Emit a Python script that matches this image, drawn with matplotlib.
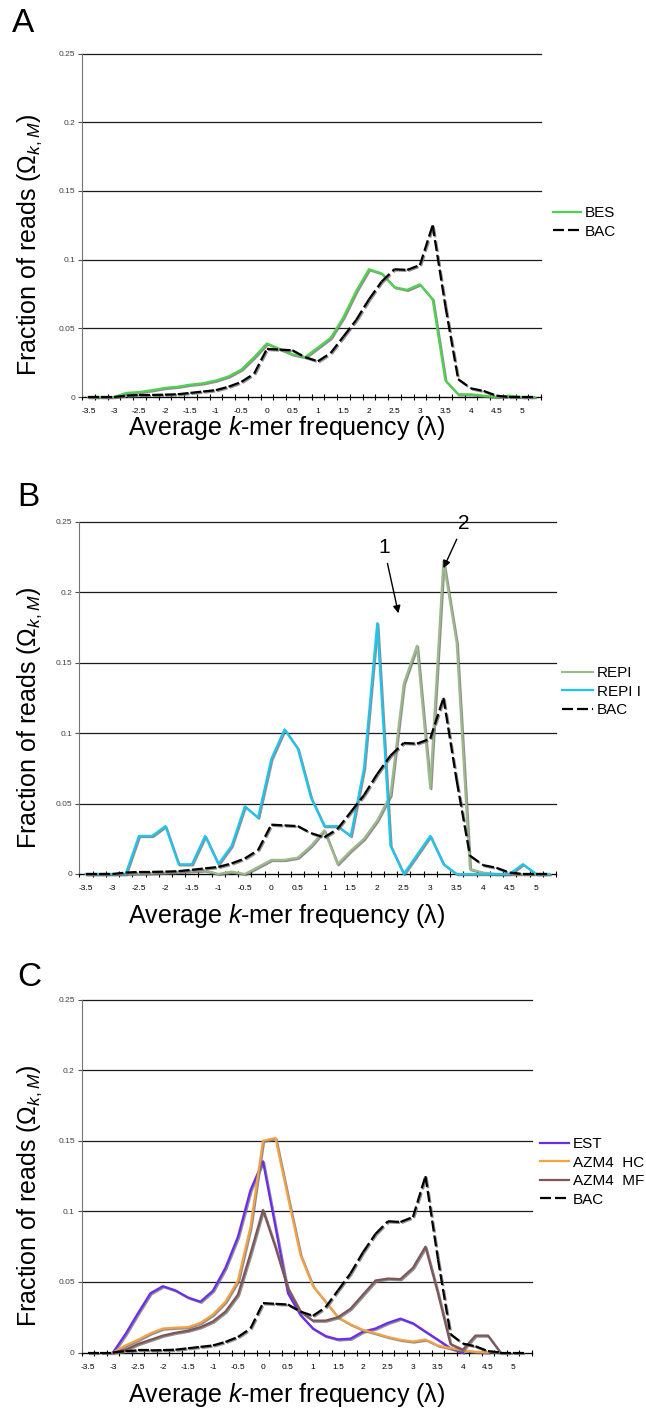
import numpy as np
import matplotlib
matplotlib.use('Agg')
import matplotlib.pyplot as plt
import matplotlib.patheffects as pe
from matplotlib.lines import Line2D
from matplotlib.collections import LineCollection

plt.rcParams['font.family'] = ['Liberation Sans', 'DejaVu Sans']
plt.rcParams['mathtext.fontset'] = 'custom'
plt.rcParams['mathtext.rm'] = 'Liberation Sans'
plt.rcParams['mathtext.it'] = 'Liberation Sans:italic'
plt.rcParams['mathtext.bf'] = 'Liberation Sans:bold'

# Category axis (average k-mer frequency, lambda)
lam = [-3.5, -3.25, -3.0, -2.75, -2.5, -2.25, -2.0, -1.75, -1.5, -1.25, -1.0, -0.75,
       -0.5, -0.25, 0.0, 0.25, 0.5, 0.75, 1.0, 1.25, 1.5, 1.75, 2.0, 2.25,
       2.5, 2.75, 3.0, 3.25, 3.5, 3.75, 4.0, 4.25, 4.5, 4.75, 5.0, 5.25]
tick_labels = ['-3.5', '-3', '-2.5', '-2', '-1.5', '-1', '-0.5', '0', '0.5', '1', '1.5',
               '2', '2.5', '3', '3.5', '4', '4.5', '5']
nan = np.nan

bac = [0, 0, 0, 0.001, 0.0015, 0.0015, 0.0017, 0.002, 0.003, 0.004, 0.005, 0.0075,
       0.011, 0.017, 0.035, 0.0345, 0.034, 0.029, 0.026, 0.032, 0.044, 0.056, 0.071, 0.084,
       0.093, 0.0925, 0.096, 0.125, 0.066, 0.013, 0.0063, 0.0044, 0.001, 0, 0, 0]
bes = [0, 0, 0, 0.003, 0.0036, 0.005, 0.0066, 0.0075, 0.009, 0.010, 0.012, 0.015,
       0.020, 0.029, 0.039, 0.035, 0.031, 0.029, 0.036, 0.043, 0.058, 0.077, 0.093, 0.090,
       0.080, 0.078, 0.082, 0.071, 0.012, 0.002, 0.002, 0.001, 0, 0.001, 0, 0]
repi = [0, 0, 0, 0, 0.0003, 0.0005, 0.001, 0.0015, 0.002, 0.0025, 0, 0.0017,
        0, 0.005, 0.010, 0.010, 0.0116, 0.020, 0.031, 0.007, 0.0166, 0.025, 0.038, 0.056,
        0.135, 0.162, 0.061, 0.222, 0.164, 0.0035, 0.001, 0, 0, 0, 0, 0]
repii = [0, 0, 0, 0, 0.027, 0.027, 0.034, 0.0069, 0.0069, 0.027, 0.007, 0.020,
         0.048, 0.040, 0.0816, 0.1026, 0.089, 0.054, 0.034, 0.034, 0.027, 0.075, 0.178, 0.020,
         0, 0.0135, 0.027, 0.007, 0, 0, 0, 0, 0, 0.007, 0, 0]
est = [nan, nan, 0, 0.013, 0.0278, 0.042, 0.047, 0.044, 0.039, 0.036, 0.0438, 0.060,
       0.082, 0.115, 0.1355, 0.089, 0.042, 0.0266, 0.017, 0.0117, 0.0093, 0.0098, 0.0148, 0.017,
       0.021, 0.024, 0.0207, 0.0148, 0.009, 0.003, 0, nan, nan, nan, nan, nan]
azm4_hc = [nan, nan, 0, 0.005, 0.009, 0.0136, 0.017, 0.0176, 0.018, 0.021, 0.027, 0.036,
           0.051, 0.089, 0.150, 0.152, 0.110, 0.069, 0.047, 0.036, 0.025, 0.020, 0.016, 0.0136,
           0.011, 0.009, 0.0078, 0.0092, 0.005, 0.003, 0.0017, 0.0005, 0, nan, nan, nan]
azm4_mf = [nan, nan, 0, 0.002, 0.006, 0.009, 0.012, 0.014, 0.0155, 0.018, 0.022, 0.029,
           0.041, 0.070, 0.101, 0.0746, 0.0455, 0.029, 0.0226, 0.0226, 0.025, 0.031, 0.041, 0.051,
           0.0524, 0.052, 0.060, 0.075, 0.042, 0.006, 0.002, 0.012, 0.012, 0, nan, nan]

yticks = [0, 0.05, 0.1, 0.15, 0.2, 0.25]
ytick_labels = ['0', '0.05', '0.1', '0.15', '0.2', '0.25']

W, H = 646, 1410
fig = plt.figure(figsize=(W / 100, H / 100), dpi=100)

BAC_DASH = (0, (4.95, 1.8))
BAC_STYLE = dict(color='black', ls=BAC_DASH, lw=1.6)
shadow = [pe.SimpleLineShadow(offset=(0.8, -0.8), shadow_color='0.45', alpha=0.8), pe.Normal()]


def panel(left, right, top, bottom, series, letter, letter_xy, xlab_y, leg_xy, handlelen):
    ax = fig.add_axes([left / W, 1 - bottom / H, (right - left) / W, (bottom - top) / H])
    x = np.arange(len(lam))
    for v in yticks:
        ax.axhline(v, color='0.1', lw=0.9, zorder=0.5, clip_on=False)
    handles = []
    for vals, label, style in series:
        if label == 'BAC':
            # dash pattern restarts on every segment, as in the original spreadsheet chart
            pts = np.column_stack([x, vals])
            segs = [pts[i:i + 2] for i in range(len(pts) - 1)]
            lc = LineCollection(segs, colors='black', linewidths=1.6, linestyles=[BAC_DASH],
                                capstyle='butt', zorder=3, clip_on=False, path_effects=shadow)
            ax.add_collection(lc)
        else:
            ax.plot(x, vals, zorder=3, clip_on=False, path_effects=shadow, **style)
        handles.append(Line2D([], [], label=label, **style))
    ax.set_xlim(-0.5, len(lam) - 0.5)
    ax.set_ylim(0, 0.25)
    ax.set_xticks(x[::2])
    ax.set_xticklabels(tick_labels, fontsize=6)
    ax.set_xticks(np.arange(len(lam) + 1) - 0.5, minor=True)
    ax.tick_params(axis='x', which='major', length=0, pad=8)
    ax.tick_params(axis='x', which='minor', direction='inout', length=5, width=0.8)
    ax.set_yticks(yticks)
    ax.set_yticklabels(ytick_labels, fontsize=6, color='0.25')
    ax.tick_params(axis='y', length=3, width=0.8, color='0.3', pad=2)
    for s in ['top', 'right']:
        ax.spines[s].set_visible(False)
    ax.spines['left'].set_color('0.45')
    ax.spines['bottom'].set_color('black')

    fig.text(letter_xy[0] / W, 1 - letter_xy[1] / H, letter, fontsize=24,
             ha='left', va='center')
    fig.text(30 / W, 1 - ((top + bottom) / 2 + 20) / H,
             r'Fraction of reads ($\Omega_{\mathit{k,M}}$)', fontsize=18,
             rotation=90, ha='center', va='center')
    fig.text(287 / W, 1 - xlab_y / H, r'Average $\mathit{k}$-mer frequency (λ)',
             fontsize=18, ha='center', va='center')
    ax.legend(handles=handles, loc='upper left', frameon=False, fontsize=11,
              bbox_to_anchor=(leg_xy[0] / W, 1 - leg_xy[1] / H), bbox_transform=fig.transFigure,
              borderpad=0, borderaxespad=0, handlelength=handlelen, handletextpad=0.26,
              labelspacing=0.3)
    return ax


# Panel A
panel(82, 541, 53.5, 397,
      [(bes, 'BES', dict(color='#4FD24F', lw=1.6)),
       (bac, 'BAC', BAC_STYLE)],
      'A', (12, 24), 428, (553, 206), 1.85)

# Panel B
axB = panel(79.3, 556, 521.7, 874,
            [(repi, 'REPI', dict(color='#9DBA8A', lw=1.6)),
             (repii, 'REPI I', dict(color='#1CC6F0', lw=1.6)),
             (bac, 'BAC', BAC_STYLE)],
            'B', (17, 497), 916, (562, 666), 2.0)
arrow = dict(arrowstyle='-|>', color='black', lw=1, mutation_scale=11, shrinkA=3, shrinkB=0)
axB.annotate('1', xy=(23.6, 0.185), xytext=(22.5, 0.232), fontsize=15, ha='center',
             va='center', arrowprops=arrow, annotation_clip=False)
axB.annotate('2', xy=(27.0, 0.217), xytext=(28.56, 0.249), fontsize=15, ha='center',
             va='center', arrowprops=arrow, annotation_clip=False)

# Panel C
panel(81.7, 531.7, 999.7, 1352.5,
      [(est, 'EST', dict(color='#6A2BF2', lw=1.6)),
       (azm4_hc, 'AZM4  HC', dict(color='#F5A244', lw=1.6)),
       (azm4_mf, 'AZM4  MF', dict(color='#7E5558', lw=1.6)),
       (bac, 'BAC', BAC_STYLE)],
      'C', (17, 977), 1395, (540, 1137), 1.9)

fig.savefig('out.png', dpi=100)
